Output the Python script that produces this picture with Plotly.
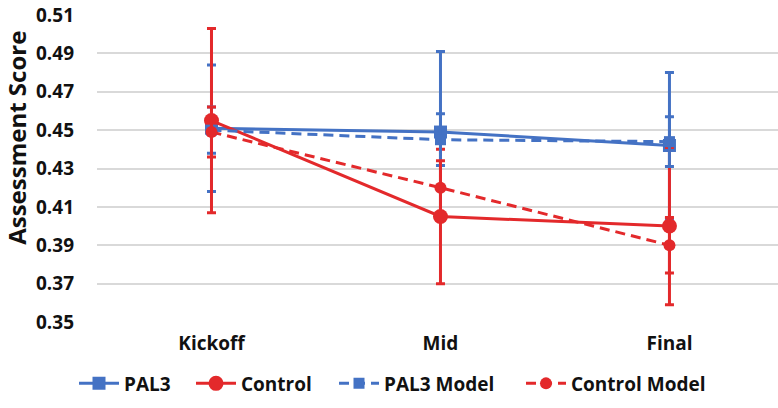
import plotly.graph_objects as go

categories = ["Kickoff", "Mid", "Final"]
pal3 = [0.451, 0.449, 0.442]
pal3_err = [0.033, 0.042, 0.038]
control = [0.455, 0.405, 0.400]
control_err = [0.048, 0.035, 0.041]
pal3_model = [0.450, 0.445, 0.444]
pal3_model_err = [0.012, 0.0135, 0.013]
control_model = [0.449, 0.420, 0.390]
control_model_err = [0.013, 0.014, 0.0145]
y_ticks = [0.35, 0.37, 0.39, 0.41, 0.43, 0.45, 0.47, 0.49, 0.51]

BLUE = "#4472C4"
RED = "#E3292B"
FONT = "Open Sans"
W = 778

fig = go.Figure()

def add(name, y, err, color, symbol, msize, dash, legend):
    fig.add_trace(go.Scatter(
        x=categories, y=y, name=name, mode="lines+markers",
        line=dict(color=color, width=3, dash=dash),
        marker=dict(color=color, symbol=symbol, size=msize),
        error_y=dict(type="data", array=err, visible=True, color=color,
                     thickness=3, width=4.5),
        legend=legend,
    ))

add("PAL3", pal3, pal3_err, BLUE, "square", 13, "solid", "legend")
add("Control", control, control_err, RED, "circle", 15, "solid", "legend2")
add("PAL3 Model", pal3_model, pal3_model_err, BLUE, "square", 11, "10px,6px", "legend3")
add("Control Model", control_model, control_model_err, RED, "circle", 12, "10px,6px", "legend4")

def leg(xpx):
    return dict(orientation="h", x=xpx / W, xanchor="left", xref="container",
                y=0.06, yanchor="middle", yref="container",
                font=dict(family=FONT, size=19, weight="bold"),
                itemwidth=40, bgcolor="rgba(0,0,0,0)")

fig.update_layout(
    width=778, height=408,
    margin=dict(l=97, r=0, t=15, b=86),
    paper_bgcolor="white", plot_bgcolor="white",
    font=dict(family=FONT, size=19, color="#111111", weight="bold"),
    showlegend=True,
    legend=leg(74), legend2=leg(191), legend3=leg(334), legend4=leg(521),
    xaxis=dict(type="category", range=[-0.5, 2.474], showgrid=False,
               showline=False, zeroline=False, ticks="",
               ticklabelstandoff=8,
               tickfont=dict(family=FONT, size=19, weight="bold")),
    yaxis=dict(range=[0.35, 0.51], tickvals=y_ticks,
               ticktext=[f"{v:.2f}" for v in y_ticks],
               showgrid=True, gridcolor="#D9D9D9", gridwidth=1.5,
               zeroline=False, showline=False, ticks="",
               ticklabelstandoff=22,
               tickfont=dict(family=FONT, size=19, weight="bold")),
    annotations=[dict(text="Assessment Score", textangle=-90,
                      xref="paper", yref="paper", x=(17 - 97) / 681, y=0.60,
                      xanchor="center", yanchor="middle", showarrow=False,
                      font=dict(family=FONT, size=24, weight="bold"))],
)

fig.write_html("out.html", post_script="document.body.style.margin='0';",
               config={"displayModeBar": False})
